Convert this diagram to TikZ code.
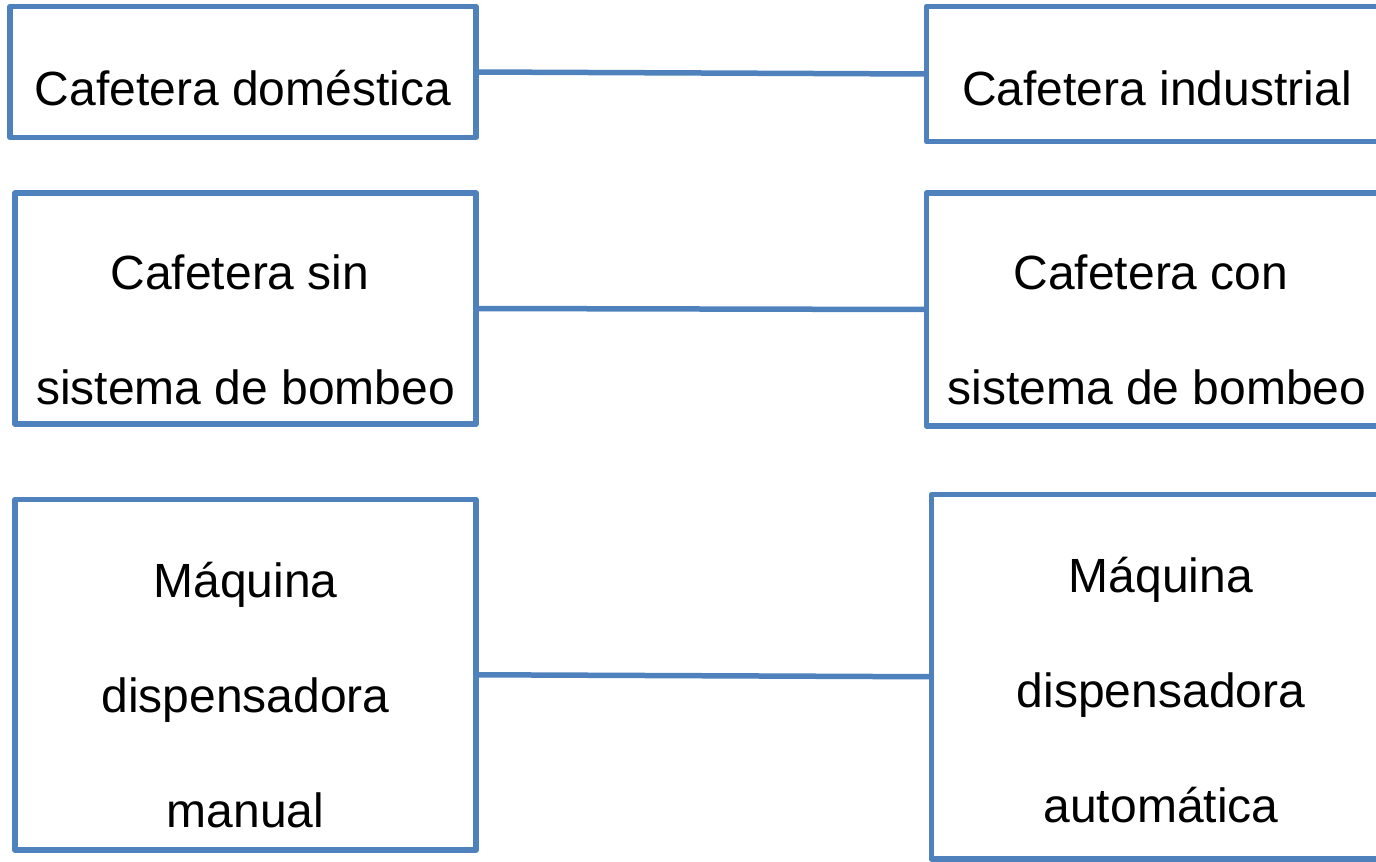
\documentclass[tikz,border=0pt]{standalone}
\usepackage{fontspec}
\setmainfont{Liberation Sans}
\definecolor{boxblue}{HTML}{4F81BD}
\begin{document}
\begin{tikzpicture}[x=1pt,y=-1pt,
  box/.style={draw=boxblue,line width=5.5pt,line join=round,inner sep=0pt,outer sep=0pt,rectangle},
  lbl/.style={anchor=base,inner sep=0pt,font=\fontsize{48}{58}\selectfont},
  link/.style={draw=boxblue,line width=5.5pt}]
\useasboundingbox (0,0) rectangle (1376,862);
\node[box,minimum width=466pt,minimum height=131pt] (b1) at (243,72) {};
\node[box,minimum width=461pt,minimum height=135pt] (b2) at (1157,74) {};
\node[box,minimum width=461pt,minimum height=231pt] (b3) at (245.5,308.5) {};
\node[box,minimum width=461pt,minimum height=233pt] (b4) at (1157,309.5) {};
\node[box,minimum width=461pt,minimum height=350.5pt] (b5) at (245.5,674.75) {};
\node[box,minimum width=459pt,minimum height=364.5pt] (b6) at (1161,676.75) {};
\node[lbl] (t1) at (243,105) {Cafetera doméstica};
\node[lbl] (t2) at (1157,105) {Cafetera industrial};
\node[lbl] (t3a) at (240,289) {Cafetera sin};
\node[lbl] (t3b) at (245.5,404) {sistema de bombeo};
\node[lbl] (t4a) at (1151,289) {Cafetera con};
\node[lbl] (t4b) at (1157,404) {sistema de bombeo};
\node[lbl] (t5a) at (245.5,597) {Máquina};
\node[lbl] (t5b) at (245.5,712) {dispensadora};
\node[lbl] (t5c) at (245.5,827) {manual};
\node[lbl] (t6a) at (1161,592) {Máquina};
\node[lbl] (t6b) at (1161,707) {dispensadora};
\node[lbl] (t6c) at (1161,822) {automática};
\draw[link] (b1.east) -- (b2.west);
\draw[link] (b3.east) -- (b4.west);
\draw[link] (b5.east) -- (b6.west);
\end{tikzpicture}
\end{document}
